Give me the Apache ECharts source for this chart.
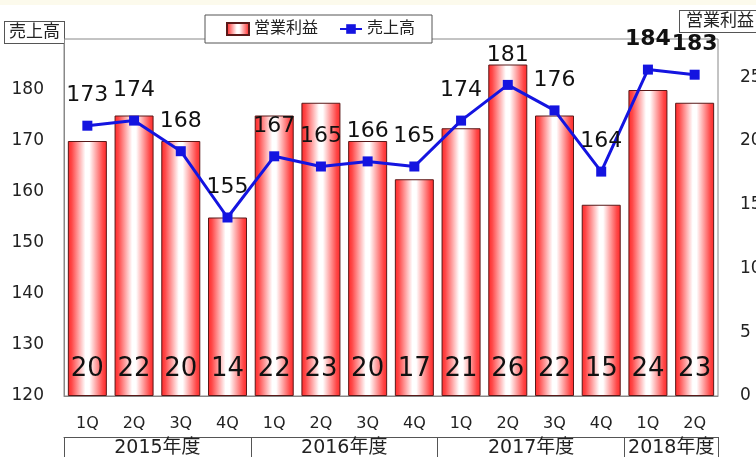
<!DOCTYPE html>
<html><head><meta charset="utf-8">
<script src="https://cdn.jsdelivr.net/npm/echarts@6/dist/echarts.min.js"></script>
<style>html,body{margin:0;padding:0;background:#fff}#c{width:756px;height:457px}</style>
</head><body><div id="c"></div>
<script>
const quarters = ['1Q','2Q','3Q','4Q','1Q','2Q','3Q','4Q','1Q','2Q','3Q','4Q','1Q','2Q'];
const profit = [20,22,20,14,22,23,20,17,21,26,22,15,24,23];
const sales = [173,174,168,155,167,165,166,165,174,181,176,164,184,183];
const years = ['2015年度','2016年度','2017年度','2018年度'];
const yearStart = [0,4,8,12];
const yearEnd = [4,8,12,14];
const boldFrom = 12;

const FONT = '"DejaVu Sans","Noto Sans CJK JP",sans-serif';
const chart = echarts.init(document.getElementById('c'));
const yearCenters = yearStart.map((s,i)=>(s+yearEnd[i])/2);
const yearTicks = [0].concat(yearEnd);

chart.setOption({
  animation:false,
  textStyle:{fontFamily:FONT},
  graphic:[{type:'rect',left:0,top:0,shape:{width:756,height:5},style:{fill:'#fcfaec'},silent:true}],
  legend:{
    left:205, top:15,
    data:[{name:'営業利益',icon:'rect'},{name:'売上高'}],
    itemWidth:22, itemHeight:12, itemGap:21,
    padding:[6,17,6,21],
    borderColor:'#555', borderWidth:1, backgroundColor:'#fff',
    textStyle:{fontSize:16,color:'#222',fontFamily:FONT}
  },
  grid:{left:64,right:38,top:39,bottom:61,outerBoundsMode:'none',containLabel:false,
    show:true,borderColor:'#888',borderWidth:1,backgroundColor:'transparent'},
  xAxis:[{
    type:'category', data:quarters, boundaryGap:true,
    axisLine:{lineStyle:{color:'#888'}}, axisTick:{show:false},
    axisLabel:{fontSize:16,color:'#222',margin:20}
  },{
    type:'value', min:0, max:14, position:'bottom', offset:41,
    axisLine:{show:true,lineStyle:{color:'#555'}},
    axisTick:{show:true,customValues:yearTicks,length:25,lineStyle:{color:'#555'}},
    axisLabel:{customValues:yearCenters,margin:2,fontSize:19,color:'#222',
      formatter:(v)=>{const i=yearCenters.indexOf(v);return i>=0?years[i]:'';}},
    splitLine:{show:false}
  }],
  yAxis:[{
    type:'value', min:120, max:190, interval:10,
    name:'売上高', nameLocation:'end', nameGap:-4,
    nameTextStyle:{fontSize:17,color:'#222',align:'right',borderColor:'#555',borderWidth:1,padding:[2,4,2,4],backgroundColor:'#fff'},
    axisLine:{show:true,lineStyle:{color:'#888'}}, axisTick:{show:false},
    axisLabel:{fontSize:17,color:'#222',margin:20,showMaxLabel:false},
    splitLine:{show:false}
  },{
    type:'value', min:0, max:28, interval:5,
    name:'営業利益', nameLocation:'end', nameGap:7,
    nameTextStyle:{fontSize:17,color:'#222',align:'center',borderColor:'#555',borderWidth:1,padding:[2,2,2,6],backgroundColor:'#fff'},
    axisLine:{show:false}, axisTick:{show:false},
    axisLabel:{fontSize:17,color:'#222',margin:22,showMaxLabel:false},
    splitLine:{show:false}
  }],
  series:[{
    name:'営業利益', type:'bar', yAxisIndex:1, data:profit, barWidth:39,
    itemStyle:{
      color:new echarts.graphic.LinearGradient(0,0,1,0,[
        {offset:0,color:'#ff2828'},{offset:0.1,color:'#ff4848'},{offset:0.45,color:'#ffffff'},
        {offset:0.55,color:'#ffffff'},{offset:0.9,color:'#ff4848'},{offset:1,color:'#ff2828'}]),
      borderColor:'#5a1818', borderWidth:1
    },
    label:{show:true,position:'insideBottom',distance:14,fontSize:26,color:'#111',fontFamily:FONT}
  },{
    name:'売上高', type:'line', yAxisIndex:0,
    data:sales.map((v,i)=> i>=boldFrom ? {value:v,label:{fontWeight:'bold'}} : v),
    symbol:'rect', symbolSize:10, z:5,
    lineStyle:{color:'#1414e0',width:3}, itemStyle:{color:'#1414e0'},
    label:{show:true,position:'top',distance:14,fontSize:22,color:'#111',fontFamily:FONT}
  }]
});
</script></body></html>
